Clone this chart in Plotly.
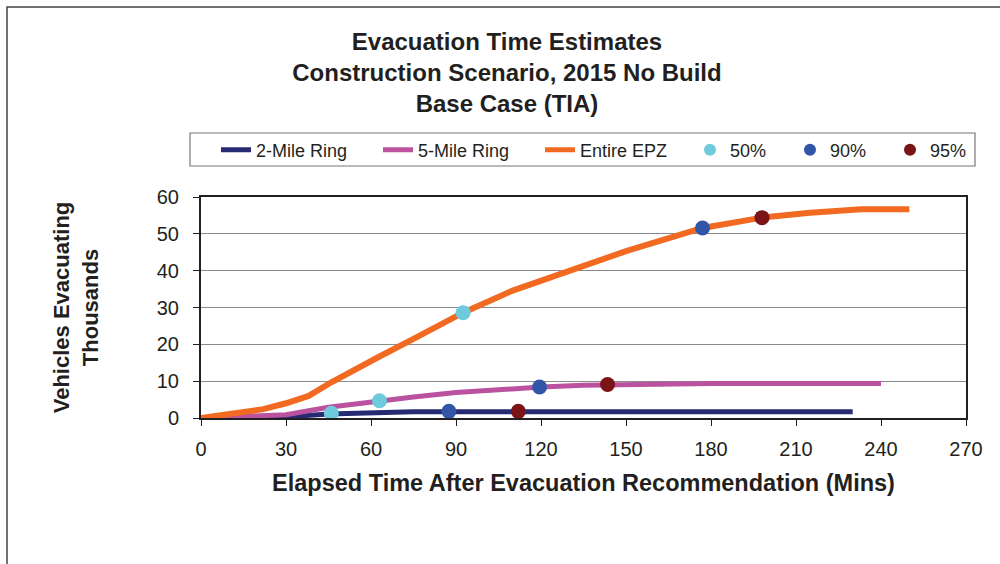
import plotly.graph_objects as go

# Elapsed minutes and vehicles evacuating (thousands) per region
ring2_t = [0, 30, 45, 60, 75, 230]
ring2_v = [0, 0.3, 1.1, 1.4, 1.7, 1.7]

ring5_t = [0, 15, 30, 45, 60, 75, 90, 105, 120, 135, 150, 165, 180, 240]
ring5_v = [0, 0.45, 0.9, 2.9, 4.4, 5.7, 6.9, 7.8, 8.4, 8.9, 9.1, 9.3, 9.4, 9.4]

epz_t = [0, 8, 22, 30, 38, 46, 54, 63, 75, 92.5, 110, 122, 134, 150, 177, 198, 215, 233, 250]
epz_v = [0, 0.8, 2.4, 4.0, 6.0, 9.7, 12.8, 16.7, 21.5, 28.6, 34.6, 37.8, 41.3, 45.3,
         51.6, 54.4, 55.7, 56.7, 56.7]

# Percentile completion points (2-Mile, 5-Mile, Entire EPZ)
p50_t = [46, 63, 92.5]
p50_v = [1.3, 4.7, 28.6]
p90_t = [87.5, 119.5, 177]
p90_v = [1.8, 8.4, 51.6]
p95_t = [112, 143.5, 198]
p95_v = [1.8, 9.1, 54.4]

x_ticks = [0, 30, 60, 90, 120, 150, 180, 210, 240, 270]
y_ticks = [0, 10, 20, 30, 40, 50, 60]

W, H = 1000, 564
ML, MR, MT, MB = 201, 34, 197, 146
PW, PH = W - ML - MR, H - MT - MB


def px(x):
    return (x - ML) / PW


def py(y):
    return (H - MB - y) / PH


FONT = "Liberation Sans, Arial, sans-serif"
TXT = "#231f20"

fig = go.Figure()

fig.add_trace(go.Scatter(x=ring2_t, y=ring2_v, mode="lines", name="2-Mile Ring",
                         line=dict(color="#262a73", width=5), legendwidth=117))
fig.add_trace(go.Scatter(x=ring5_t, y=ring5_v, mode="lines", name="5-Mile Ring",
                         line=dict(color="#bb52a0", width=5), legendwidth=117))
fig.add_trace(go.Scatter(x=epz_t, y=epz_v, mode="lines", name="Entire EPZ",
                         line=dict(color="#f26a21", width=6), legendwidth=105))
fig.add_trace(go.Scatter(x=p50_t, y=p50_v, mode="markers", name="50%",
                         marker=dict(color="#6dcbdb", size=15), legendwidth=55))
fig.add_trace(go.Scatter(x=p90_t, y=p90_v, mode="markers", name="90%",
                         marker=dict(color="#3355a8", size=15), legendwidth=55))
fig.add_trace(go.Scatter(x=p95_t, y=p95_v, mode="markers", name="95%",
                         marker=dict(color="#7b1416", size=15), legendwidth=40))

fig.update_layout(
    width=W, height=H,
    margin=dict(l=ML, r=MR, t=MT, b=MB, autoexpand=False),
    paper_bgcolor="white", plot_bgcolor="white",
    font=dict(family=FONT, color=TXT),
    title=dict(
        text="Evacuation Time Estimates<br>Construction Scenario, 2015 No Build<br>Base Case (TIA)",
        font=dict(family=FONT, size=24, color=TXT, weight="bold"),
        x=0.507, xanchor="center", xref="container",
        y=1 - 50 / H, yanchor="top", yref="container",
    ),
    showlegend=True,
    legend=dict(
        orientation="h", x=px(216), xanchor="left", y=py(150), yanchor="middle",
        font=dict(family=FONT, size=18, color=TXT),
        bgcolor="rgba(0,0,0,0)", borderwidth=0, itemsizing="constant",
        traceorder="normal",
    ),
    xaxis=dict(
        range=[0, 270], tickvals=x_ticks, ticks="outside", ticklen=6,
        tickcolor="#231f20", tickwidth=1, ticklabelstandoff=6,
        showline=True, linecolor="#231f20", linewidth=2, mirror=True,
        showgrid=False, zeroline=False,
        tickfont=dict(family=FONT, size=20, color=TXT),
        title=dict(text="Elapsed Time After Evacuation Recommendation (Mins)",
                   font=dict(family=FONT, size=23.5, color=TXT, weight="bold"),
                   standoff=16),
    ),
    yaxis=dict(
        range=[0, 60], tickvals=y_ticks, ticks="outside", ticklen=6,
        tickcolor="#231f20", tickwidth=1, ticklabelstandoff=10,
        showline=True, linecolor="#231f20", linewidth=2, mirror=True,
        showgrid=True, gridcolor="#8a8a8a", gridwidth=1.2, zeroline=False,
        tickfont=dict(family=FONT, size=20, color=TXT),
        title=dict(text="Vehicles Evacuating<br>Thousands",
                   font=dict(family=FONT, size=22, color=TXT, weight="bold"),
                   standoff=52),
    ),
    shapes=[
        # outer chart frame
        dict(type="rect", xref="paper", yref="paper",
             x0=px(7), x1=px(1040), y0=py(7), y1=py(600),
             line=dict(color="#444444", width=1.5), layer="below"),
        # legend box
        dict(type="rect", xref="paper", yref="paper",
             x0=px(190), x1=px(975), y0=py(133), y1=py(166),
             line=dict(color="#777777", width=1.2), layer="below"),
    ],
)

fig.write_html("out.html")
